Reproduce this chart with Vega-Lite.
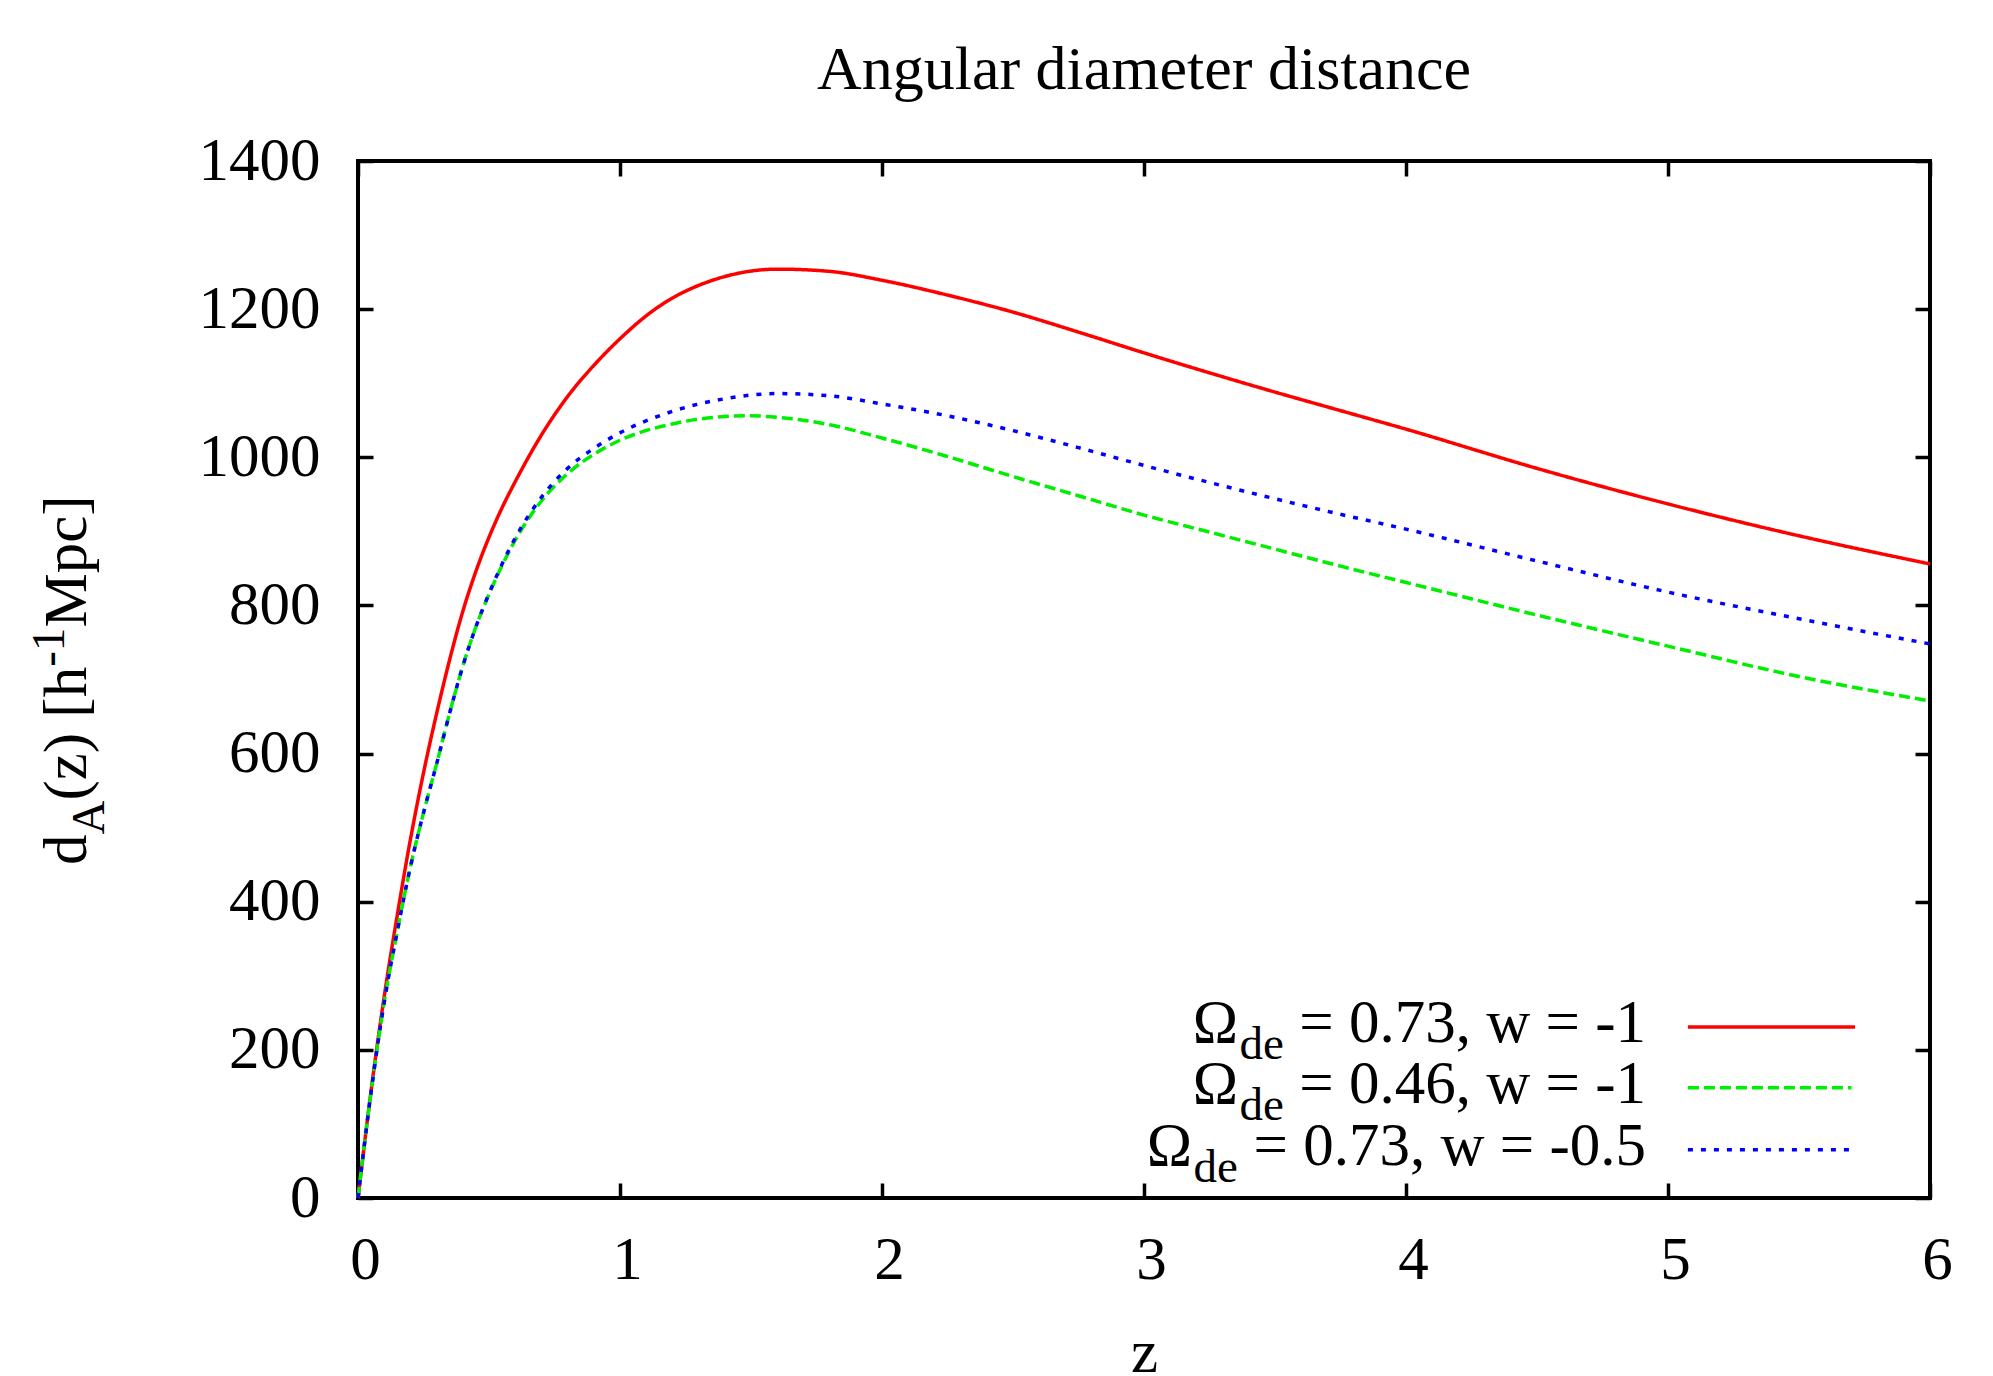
{
  "$schema": "https://vega.github.io/schema/vega-lite/v6.json",
  "width": 1572,
  "height": 1037,
  "autosize": {"type": "none"},
  "padding": {"left": 358, "top": 161, "right": 63, "bottom": 178},
  "background": "white",
  "title": {
    "text": "Angular diameter distance",
    "font": "Liberation Serif",
    "fontSize": 62,
    "fontWeight": "normal",
    "color": "black",
    "anchor": "middle",
    "frame": "group",
    "baseline": "alphabetic",
    "offset": -21
  },
  "config": {
    "view": {"stroke": "black", "strokeWidth": 4},
    "axis": {
      "domain": false,
      "grid": false,
      "ticks": true,
      "tickColor": "black",
      "tickWidth": 3.5,
      "tickSize": -15,
      "labelFont": "Liberation Serif",
      "labelFontSize": 61,
      "labelColor": "black",
      "labelFlush": false,
      "labelOverlap": false,
      "labelBound": false,
      "titleFont": "Liberation Serif",
      "titleFontSize": 61,
      "titleFontWeight": "normal",
      "titleColor": "black"
    }
  },
  "datasets": {
    "curves": [
      {"series": "Ωde = 0.73, w = -1", "z": 0, "d": 0},
      {"series": "Ωde = 0.73, w = -1", "z": 0.05, "d": 145},
      {"series": "Ωde = 0.73, w = -1", "z": 0.1, "d": 272},
      {"series": "Ωde = 0.73, w = -1", "z": 0.15, "d": 382},
      {"series": "Ωde = 0.73, w = -1", "z": 0.2, "d": 484},
      {"series": "Ωde = 0.73, w = -1", "z": 0.25, "d": 574},
      {"series": "Ωde = 0.73, w = -1", "z": 0.3, "d": 654},
      {"series": "Ωde = 0.73, w = -1", "z": 0.35, "d": 727},
      {"series": "Ωde = 0.73, w = -1", "z": 0.4, "d": 792},
      {"series": "Ωde = 0.73, w = -1", "z": 0.45, "d": 846},
      {"series": "Ωde = 0.73, w = -1", "z": 0.5, "d": 892},
      {"series": "Ωde = 0.73, w = -1", "z": 0.55, "d": 932},
      {"series": "Ωde = 0.73, w = -1", "z": 0.6, "d": 967},
      {"series": "Ωde = 0.73, w = -1", "z": 0.7, "d": 1030},
      {"series": "Ωde = 0.73, w = -1", "z": 0.8, "d": 1082},
      {"series": "Ωde = 0.73, w = -1", "z": 0.9, "d": 1124},
      {"series": "Ωde = 0.73, w = -1", "z": 1.0, "d": 1160},
      {"series": "Ωde = 0.73, w = -1", "z": 1.1, "d": 1191},
      {"series": "Ωde = 0.73, w = -1", "z": 1.2, "d": 1215},
      {"series": "Ωde = 0.73, w = -1", "z": 1.3, "d": 1232},
      {"series": "Ωde = 0.73, w = -1", "z": 1.4, "d": 1244},
      {"series": "Ωde = 0.73, w = -1", "z": 1.6, "d": 1254},
      {"series": "Ωde = 0.73, w = -1", "z": 1.8, "d": 1251},
      {"series": "Ωde = 0.73, w = -1", "z": 2.0, "d": 1239},
      {"series": "Ωde = 0.73, w = -1", "z": 2.25, "d": 1219},
      {"series": "Ωde = 0.73, w = -1", "z": 2.5, "d": 1196},
      {"series": "Ωde = 0.73, w = -1", "z": 2.75, "d": 1169},
      {"series": "Ωde = 0.73, w = -1", "z": 3.0, "d": 1141},
      {"series": "Ωde = 0.73, w = -1", "z": 3.25, "d": 1114},
      {"series": "Ωde = 0.73, w = -1", "z": 3.5, "d": 1088},
      {"series": "Ωde = 0.73, w = -1", "z": 3.75, "d": 1063},
      {"series": "Ωde = 0.73, w = -1", "z": 4.0, "d": 1038},
      {"series": "Ωde = 0.73, w = -1", "z": 4.5, "d": 985},
      {"series": "Ωde = 0.73, w = -1", "z": 5.0, "d": 937},
      {"series": "Ωde = 0.73, w = -1", "z": 5.5, "d": 894},
      {"series": "Ωde = 0.73, w = -1", "z": 6.0, "d": 856},

      {"series": "Ωde = 0.46, w = -1", "z": 0, "d": 0},
      {"series": "Ωde = 0.46, w = -1", "z": 0.05, "d": 143},
      {"series": "Ωde = 0.46, w = -1", "z": 0.1, "d": 264},
      {"series": "Ωde = 0.46, w = -1", "z": 0.15, "d": 360},
      {"series": "Ωde = 0.46, w = -1", "z": 0.2, "d": 447},
      {"series": "Ωde = 0.46, w = -1", "z": 0.25, "d": 520},
      {"series": "Ωde = 0.46, w = -1", "z": 0.3, "d": 586},
      {"series": "Ωde = 0.46, w = -1", "z": 0.35, "d": 655},
      {"series": "Ωde = 0.46, w = -1", "z": 0.4, "d": 718},
      {"series": "Ωde = 0.46, w = -1", "z": 0.45, "d": 771},
      {"series": "Ωde = 0.46, w = -1", "z": 0.5, "d": 815},
      {"series": "Ωde = 0.46, w = -1", "z": 0.55, "d": 854},
      {"series": "Ωde = 0.46, w = -1", "z": 0.6, "d": 888},
      {"series": "Ωde = 0.46, w = -1", "z": 0.7, "d": 941},
      {"series": "Ωde = 0.46, w = -1", "z": 0.8, "d": 978},
      {"series": "Ωde = 0.46, w = -1", "z": 0.9, "d": 1004},
      {"series": "Ωde = 0.46, w = -1", "z": 1.0, "d": 1023},
      {"series": "Ωde = 0.46, w = -1", "z": 1.2, "d": 1045},
      {"series": "Ωde = 0.46, w = -1", "z": 1.4, "d": 1055},
      {"series": "Ωde = 0.46, w = -1", "z": 1.5, "d": 1056},
      {"series": "Ωde = 0.46, w = -1", "z": 1.6, "d": 1054},
      {"series": "Ωde = 0.46, w = -1", "z": 1.8, "d": 1044},
      {"series": "Ωde = 0.46, w = -1", "z": 2.0, "d": 1026},
      {"series": "Ωde = 0.46, w = -1", "z": 2.25, "d": 1001},
      {"series": "Ωde = 0.46, w = -1", "z": 2.5, "d": 974},
      {"series": "Ωde = 0.46, w = -1", "z": 2.75, "d": 948},
      {"series": "Ωde = 0.46, w = -1", "z": 3.0, "d": 922},
      {"series": "Ωde = 0.46, w = -1", "z": 3.25, "d": 899},
      {"series": "Ωde = 0.46, w = -1", "z": 3.5, "d": 876},
      {"series": "Ωde = 0.46, w = -1", "z": 3.75, "d": 853},
      {"series": "Ωde = 0.46, w = -1", "z": 4.0, "d": 831},
      {"series": "Ωde = 0.46, w = -1", "z": 4.5, "d": 787},
      {"series": "Ωde = 0.46, w = -1", "z": 5.0, "d": 745},
      {"series": "Ωde = 0.46, w = -1", "z": 5.5, "d": 704},
      {"series": "Ωde = 0.46, w = -1", "z": 6.0, "d": 671},

      {"series": "Ωde = 0.73, w = -0.5", "z": 0, "d": 0},
      {"series": "Ωde = 0.73, w = -0.5", "z": 0.05, "d": 143},
      {"series": "Ωde = 0.73, w = -0.5", "z": 0.1, "d": 264},
      {"series": "Ωde = 0.73, w = -0.5", "z": 0.15, "d": 360},
      {"series": "Ωde = 0.73, w = -0.5", "z": 0.2, "d": 447},
      {"series": "Ωde = 0.73, w = -0.5", "z": 0.25, "d": 520},
      {"series": "Ωde = 0.73, w = -0.5", "z": 0.3, "d": 586},
      {"series": "Ωde = 0.73, w = -0.5", "z": 0.35, "d": 655},
      {"series": "Ωde = 0.73, w = -0.5", "z": 0.4, "d": 718},
      {"series": "Ωde = 0.73, w = -0.5", "z": 0.45, "d": 771},
      {"series": "Ωde = 0.73, w = -0.5", "z": 0.5, "d": 816},
      {"series": "Ωde = 0.73, w = -0.5", "z": 0.55, "d": 856},
      {"series": "Ωde = 0.73, w = -0.5", "z": 0.6, "d": 891},
      {"series": "Ωde = 0.73, w = -0.5", "z": 0.7, "d": 946},
      {"series": "Ωde = 0.73, w = -0.5", "z": 0.8, "d": 985},
      {"series": "Ωde = 0.73, w = -0.5", "z": 0.9, "d": 1012},
      {"series": "Ωde = 0.73, w = -0.5", "z": 1.0, "d": 1033},
      {"series": "Ωde = 0.73, w = -0.5", "z": 1.2, "d": 1062},
      {"series": "Ωde = 0.73, w = -0.5", "z": 1.4, "d": 1079},
      {"series": "Ωde = 0.73, w = -0.5", "z": 1.6, "d": 1086},
      {"series": "Ωde = 0.73, w = -0.5", "z": 1.8, "d": 1083},
      {"series": "Ωde = 0.73, w = -0.5", "z": 2.0, "d": 1072},
      {"series": "Ωde = 0.73, w = -0.5", "z": 2.25, "d": 1056},
      {"series": "Ωde = 0.73, w = -0.5", "z": 2.5, "d": 1036},
      {"series": "Ωde = 0.73, w = -0.5", "z": 2.75, "d": 1013},
      {"series": "Ωde = 0.73, w = -0.5", "z": 3.0, "d": 989},
      {"series": "Ωde = 0.73, w = -0.5", "z": 3.25, "d": 966},
      {"series": "Ωde = 0.73, w = -0.5", "z": 3.5, "d": 944},
      {"series": "Ωde = 0.73, w = -0.5", "z": 3.75, "d": 923},
      {"series": "Ωde = 0.73, w = -0.5", "z": 4.0, "d": 903},
      {"series": "Ωde = 0.73, w = -0.5", "z": 4.5, "d": 860},
      {"series": "Ωde = 0.73, w = -0.5", "z": 5.0, "d": 818},
      {"series": "Ωde = 0.73, w = -0.5", "z": 5.5, "d": 782},
      {"series": "Ωde = 0.73, w = -0.5", "z": 6.0, "d": 748}
    ],
    "one": [{}]
  },
  "layer": [
    {
      "data": {"name": "curves"},
      "mark": {"type": "line", "strokeWidth": 3.5, "interpolate": "monotone"},
      "encoding": {
        "x": {
          "field": "z", "type": "quantitative",
          "scale": {"domain": [0, 6], "nice": false, "zero": false},
          "axis": {
            "orient": "bottom", "values": [0, 1, 2, 3, 4, 5, 6], "format": "d",
            "labelPadding": 95, "labelBaseline": "alphabetic", "labelOffset": 7,
            "title": "z", "titleBaseline": "alphabetic", "titleY": 173
          }
        },
        "y": {
          "field": "d", "type": "quantitative",
          "scale": {"domain": [0, 1400], "nice": false, "zero": false},
          "axis": {
            "orient": "left", "values": [0, 200, 400, 600, 800, 1000, 1200, 1400], "format": "d",
            "labelPadding": 53, "labelBaseline": "middle",
            "title": null
          }
        },
        "color": {
          "field": "series", "type": "nominal",
          "scale": {"domain": ["Ωde = 0.73, w = -1", "Ωde = 0.46, w = -1", "Ωde = 0.73, w = -0.5"], "range": ["#ff0000", "#00ee00", "#0000ff"]},
          "legend": null
        },
        "strokeDash": {
          "field": "series", "type": "nominal",
          "scale": {"domain": ["Ωde = 0.73, w = -1", "Ωde = 0.46, w = -1", "Ωde = 0.73, w = -0.5"], "range": [[1, 0], [11, 5], [5, 8]]},
          "legend": null
        }
      }
    },
    {
      "data": {"name": "curves"},
      "mark": {"type": "point", "opacity": 0},
      "encoding": {
        "x": {
          "field": "z", "type": "quantitative",
          "scale": {"domain": [0, 6], "nice": false, "zero": false},
          "axis": {"orient": "top", "values": [0, 1, 2, 3, 4, 5, 6], "labels": false, "title": null}
        },
        "y": {
          "field": "d", "type": "quantitative",
          "scale": {"domain": [0, 1400], "nice": false, "zero": false},
          "axis": {"orient": "right", "values": [0, 200, 400, 600, 800, 1000, 1200, 1400], "labels": false, "title": null}
        }
      }
    },
    {
      "data": {"name": "one"},
      "mark": {"type": "rule", "color": "#ff0000", "strokeWidth": 3.5},
      "encoding": {
        "x": {"datum": 5.076, "type": "quantitative", "axis": null},
        "x2": {"datum": 5.714},
        "y": {"datum": 231, "type": "quantitative", "axis": null}
      }
    },
    {
      "data": {"name": "one"},
      "mark": {"type": "rule", "color": "#00ee00", "strokeWidth": 3.5, "strokeDash": [11, 5]},
      "encoding": {
        "x": {"datum": 5.076, "type": "quantitative", "axis": null},
        "x2": {"datum": 5.70},
        "y": {"datum": 149, "type": "quantitative", "axis": null}
      }
    },
    {
      "data": {"name": "one"},
      "mark": {"type": "rule", "color": "#0000ff", "strokeWidth": 3.5, "strokeDash": [5, 8]},
      "encoding": {
        "x": {"datum": 5.076, "type": "quantitative", "axis": null},
        "x2": {"datum": 5.70},
        "y": {"datum": 65, "type": "quantitative", "axis": null}
      }
    },
    {
      "data": {"name": "one"},
      "mark": {"type": "text", "text": "= 0.73, w = -1", "font": "Liberation Serif", "fontSize": 61, "color": "black", "align": "right", "baseline": "alphabetic", "dy": 15},
      "encoding": {
        "x": {"datum": 4.916, "type": "quantitative", "axis": null},
        "y": {"datum": 231, "type": "quantitative", "axis": null}
      }
    },
    {
      "data": {"name": "one"},
      "mark": {"type": "text", "text": "de", "font": "Liberation Serif", "fontSize": 47, "color": "black", "align": "right", "baseline": "alphabetic", "dx": -362, "dy": 32},
      "encoding": {
        "x": {"datum": 4.916, "type": "quantitative", "axis": null},
        "y": {"datum": 231, "type": "quantitative", "axis": null}
      }
    },
    {
      "data": {"name": "one"},
      "mark": {"type": "text", "text": "Ω", "font": "Liberation Serif", "fontSize": 61, "color": "black", "align": "right", "baseline": "alphabetic", "dx": -408, "dy": 15},
      "encoding": {
        "x": {"datum": 4.916, "type": "quantitative", "axis": null},
        "y": {"datum": 231, "type": "quantitative", "axis": null}
      }
    },
    {
      "data": {"name": "one"},
      "mark": {"type": "text", "text": "= 0.46, w = -1", "font": "Liberation Serif", "fontSize": 61, "color": "black", "align": "right", "baseline": "alphabetic", "dy": 15},
      "encoding": {
        "x": {"datum": 4.916, "type": "quantitative", "axis": null},
        "y": {"datum": 149, "type": "quantitative", "axis": null}
      }
    },
    {
      "data": {"name": "one"},
      "mark": {"type": "text", "text": "de", "font": "Liberation Serif", "fontSize": 47, "color": "black", "align": "right", "baseline": "alphabetic", "dx": -362, "dy": 32},
      "encoding": {
        "x": {"datum": 4.916, "type": "quantitative", "axis": null},
        "y": {"datum": 149, "type": "quantitative", "axis": null}
      }
    },
    {
      "data": {"name": "one"},
      "mark": {"type": "text", "text": "Ω", "font": "Liberation Serif", "fontSize": 61, "color": "black", "align": "right", "baseline": "alphabetic", "dx": -408, "dy": 15},
      "encoding": {
        "x": {"datum": 4.916, "type": "quantitative", "axis": null},
        "y": {"datum": 149, "type": "quantitative", "axis": null}
      }
    },
    {
      "data": {"name": "one"},
      "mark": {"type": "text", "text": "= 0.73, w = -0.5", "font": "Liberation Serif", "fontSize": 61, "color": "black", "align": "right", "baseline": "alphabetic", "dy": 15},
      "encoding": {
        "x": {"datum": 4.916, "type": "quantitative", "axis": null},
        "y": {"datum": 65, "type": "quantitative", "axis": null}
      }
    },
    {
      "data": {"name": "one"},
      "mark": {"type": "text", "text": "de", "font": "Liberation Serif", "fontSize": 47, "color": "black", "align": "right", "baseline": "alphabetic", "dx": -408, "dy": 32},
      "encoding": {
        "x": {"datum": 4.916, "type": "quantitative", "axis": null},
        "y": {"datum": 65, "type": "quantitative", "axis": null}
      }
    },
    {
      "data": {"name": "one"},
      "mark": {"type": "text", "text": "Ω", "font": "Liberation Serif", "fontSize": 61, "color": "black", "align": "right", "baseline": "alphabetic", "dx": -454, "dy": 15},
      "encoding": {
        "x": {"datum": 4.916, "type": "quantitative", "axis": null},
        "y": {"datum": 65, "type": "quantitative", "axis": null}
      }
    },
    {
      "data": {"name": "one"},
      "mark": {"type": "text", "text": "d", "font": "Liberation Serif", "fontSize": 61, "color": "black", "align": "left", "baseline": "alphabetic", "angle": 270, "dx": -184.75, "dy": 0},
      "encoding": {
        "x": {"datum": -1.038, "type": "quantitative", "axis": null},
        "y": {"datum": 699, "type": "quantitative", "axis": null}
      }
    },
    {
      "data": {"name": "one"},
      "mark": {"type": "text", "text": "A", "font": "Liberation Serif", "fontSize": 47, "color": "black", "align": "left", "baseline": "alphabetic", "angle": 270, "dx": -154.25, "dy": 18},
      "encoding": {
        "x": {"datum": -1.038, "type": "quantitative", "axis": null},
        "y": {"datum": 699, "type": "quantitative", "axis": null}
      }
    },
    {
      "data": {"name": "one"},
      "mark": {"type": "text", "text": "(z) [h", "font": "Liberation Serif", "fontSize": 61, "color": "black", "align": "left", "baseline": "alphabetic", "angle": 270, "dx": -120.35, "dy": 0},
      "encoding": {
        "x": {"datum": -1.038, "type": "quantitative", "axis": null},
        "y": {"datum": 699, "type": "quantitative", "axis": null}
      }
    },
    {
      "data": {"name": "one"},
      "mark": {"type": "text", "text": "-1", "font": "Liberation Serif", "fontSize": 47, "color": "black", "align": "left", "baseline": "alphabetic", "angle": 270, "dx": 13.45, "dy": -22},
      "encoding": {
        "x": {"datum": -1.038, "type": "quantitative", "axis": null},
        "y": {"datum": 699, "type": "quantitative", "axis": null}
      }
    },
    {
      "data": {"name": "one"},
      "mark": {"type": "text", "text": "Mpc]", "font": "Liberation Serif", "fontSize": 61, "color": "black", "align": "left", "baseline": "alphabetic", "angle": 270, "dx": 52.65, "dy": 0},
      "encoding": {
        "x": {"datum": -1.038, "type": "quantitative", "axis": null},
        "y": {"datum": 699, "type": "quantitative", "axis": null}
      }
    }
  ],
  "resolve": {"axis": {"x": "independent", "y": "independent"}}
}
